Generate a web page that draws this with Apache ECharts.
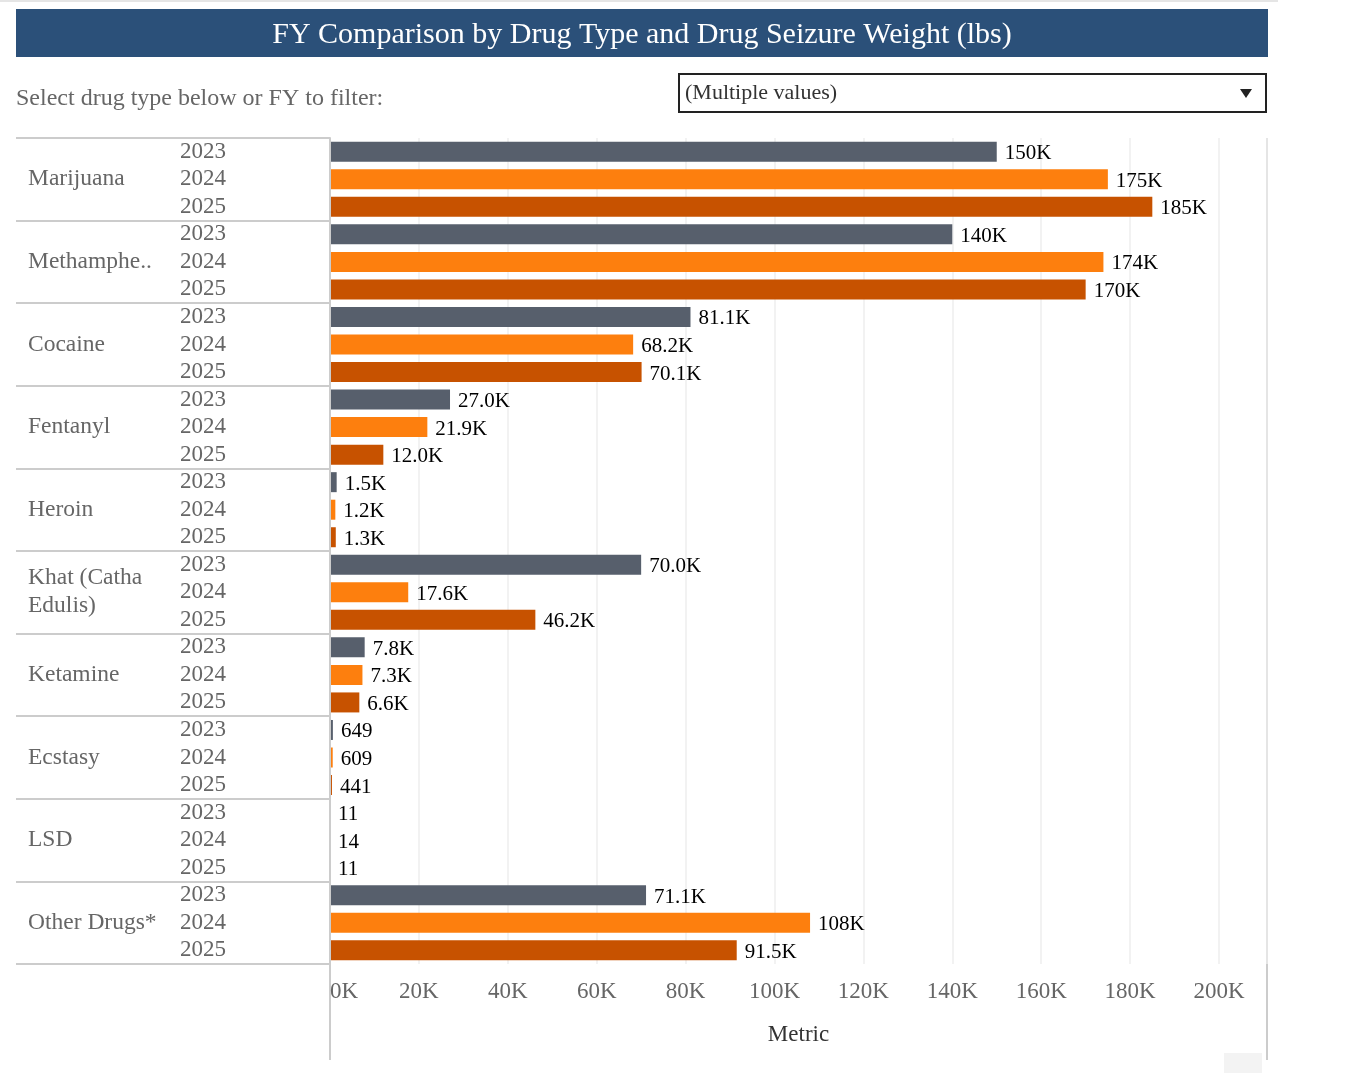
<!DOCTYPE html>
<html>
<head>
<meta charset="utf-8">
<script src="https://cdn.jsdelivr.net/npm/echarts@6/dist/echarts.min.js"></script>
<style>
html,body{margin:0;padding:0;background:#fff;}
#chart{width:1362px;height:1082px;}
</style>
</head>
<body>
<div id="chart"></div>
<script>
// ---- data ----
const drugs = ['Marijuana', 'Methamphe..', 'Cocaine', 'Fentanyl', 'Heroin', 'Khat (Catha\nEdulis)', 'Ketamine', 'Ecstasy', 'LSD', 'Other Drugs*'];
const years = ['2023', '2024', '2025'];
const fy2023 = [150000, 140000, 81100, 27000, 1500, 70000, 7800, 649, 11, 71100];
const fy2024 = [175000, 174000, 68200, 21900, 1200, 17600, 7300, 609, 14, 108000];
const fy2025 = [185000, 170000, 70100, 12000, 1300, 46200, 6600, 441, 11, 91500];
const xTicks = ['0K', '20K', '40K', '60K', '80K', '100K', '120K', '140K', '160K', '180K', '200K'];

const yearColors = ['#575f6c', '#fd7f0e', '#c75200'];
const FONT = "'Liberation Serif', 'Times New Roman', serif";

const seriesByYear = [fy2023, fy2024, fy2025];
const rowCats = [];
const rowData = [];
drugs.forEach((d, i) => {
  years.forEach((y, j) => {
    rowCats.push(d + '|' + y);
    rowData.push({ value: seriesByYear[j][i], itemStyle: { color: yearColors[j] } });
  });
});

function fmtVal(v) {
  if (v >= 1000) {
    const k = v / 1000;
    return (k >= 100 ? k.toFixed(0) : k.toFixed(1)) + 'K';
  }
  return String(v);
}

const chart = echarts.init(document.getElementById('chart'));
chart.setOption({
  backgroundColor: '#fff',
  animation: false,
  textStyle: { fontFamily: FONT },
  grid: { left: 330, top: 138, right: 95, bottom: 118, outerBoundsMode: 'none' },
  xAxis: {
    type: 'value',
    min: 0,
    max: 210800,
    interval: 20000,
    axisLine: { show: false },
    axisTick: { show: false },
    splitLine: { show: true, lineStyle: { color: '#eeeeee', width: 1.5 } },
    axisLabel: {
      fontFamily: FONT, fontSize: 23, color: '#666', margin: 16,
      showMaxLabel: false, alignMinLabel: 'left',
      formatter: function (v) { const idx = Math.round(v / 20000); return xTicks[idx] !== undefined && v % 20000 === 0 ? xTicks[idx] : ''; }
    },
    name: 'Metric',
    nameLocation: 'middle',
    nameGap: 59,
    nameTextStyle: { fontFamily: FONT, fontSize: 23, color: '#333' }
  },
  yAxis: [
    {
      type: 'category',
      data: rowCats,
      inverse: true,
      position: 'left',
      z: 5,
      axisLine: { show: true, lineStyle: { color: '#cccccc', width: 2 } },
      axisTick: { show: false },
      axisLabel: {
        fontFamily: FONT, fontSize: 23, color: '#666', align: 'left', margin: 150,
        interval: 0, hideOverlap: false, lineHeight: 24,
        formatter: function (v) { return v.split('|')[1]; }
      }
    },
    {
      type: 'category',
      data: drugs,
      inverse: true,
      position: 'left',
      offset: 0,
      axisLine: { show: false },
      axisTick: { show: true, length: 314, lineStyle: { color: '#cccccc', width: 2 } },
      axisLabel: {
        fontFamily: FONT, fontSize: 23.5, color: '#666', align: 'left', margin: 302,
        interval: 0, lineHeight: 28
      }
    }
  ],
  series: [{
    type: 'bar',
    yAxisIndex: 0,
    data: rowData,
    barWidth: 20,
    label: {
      show: true,
      position: 'right',
      distance: 8,
      offset: [0, 2],
      fontFamily: FONT,
      fontSize: 21,
      color: '#000',
      formatter: function (p) { return fmtVal(p.value); }
    }
  }],
  graphic: [
    { type: 'line', shape: { x1: 0, y1: 1, x2: 1278, y2: 1 }, style: { stroke: '#dddddd', lineWidth: 1.5 } },
    { type: 'rect', shape: { x: 16, y: 9, width: 1252, height: 48 }, style: { fill: '#2b5079' } },
    { type: 'text', x: 642, y: 35, style: { text: 'FY Comparison by Drug Type and Drug Seizure Weight (lbs)', fill: '#fff', font: '30px ' + FONT, textAlign: 'center', textVerticalAlign: 'middle' } },
    { type: 'text', x: 16, y: 99, style: { text: 'Select drug type below or FY to filter:', fill: '#666', font: '24px ' + FONT, textAlign: 'left', textVerticalAlign: 'middle' } },
    { type: 'rect', shape: { x: 679, y: 74, width: 587, height: 38 }, style: { fill: '#fff', stroke: '#222', lineWidth: 2 } },
    { type: 'text', x: 685, y: 93, style: { text: '(Multiple values)', fill: '#333', font: '22px ' + FONT, textAlign: 'left', textVerticalAlign: 'middle' } },
    { type: 'polygon', shape: { points: [[1240, 89], [1252, 89], [1246, 98]] }, style: { fill: '#222' } },
    { type: 'line', shape: { x1: 330, y1: 964, x2: 330, y2: 1060 }, style: { stroke: '#cccccc', lineWidth: 2 } },
    { type: 'line', shape: { x1: 1267, y1: 138, x2: 1267, y2: 1060 }, style: { stroke: '#cccccc', lineWidth: 2 } },
    { type: 'rect', shape: { x: 1224, y: 1053, width: 38, height: 20 }, style: { fill: '#f3f3f3' } }
  ]
});
</script>
</body>
</html>
